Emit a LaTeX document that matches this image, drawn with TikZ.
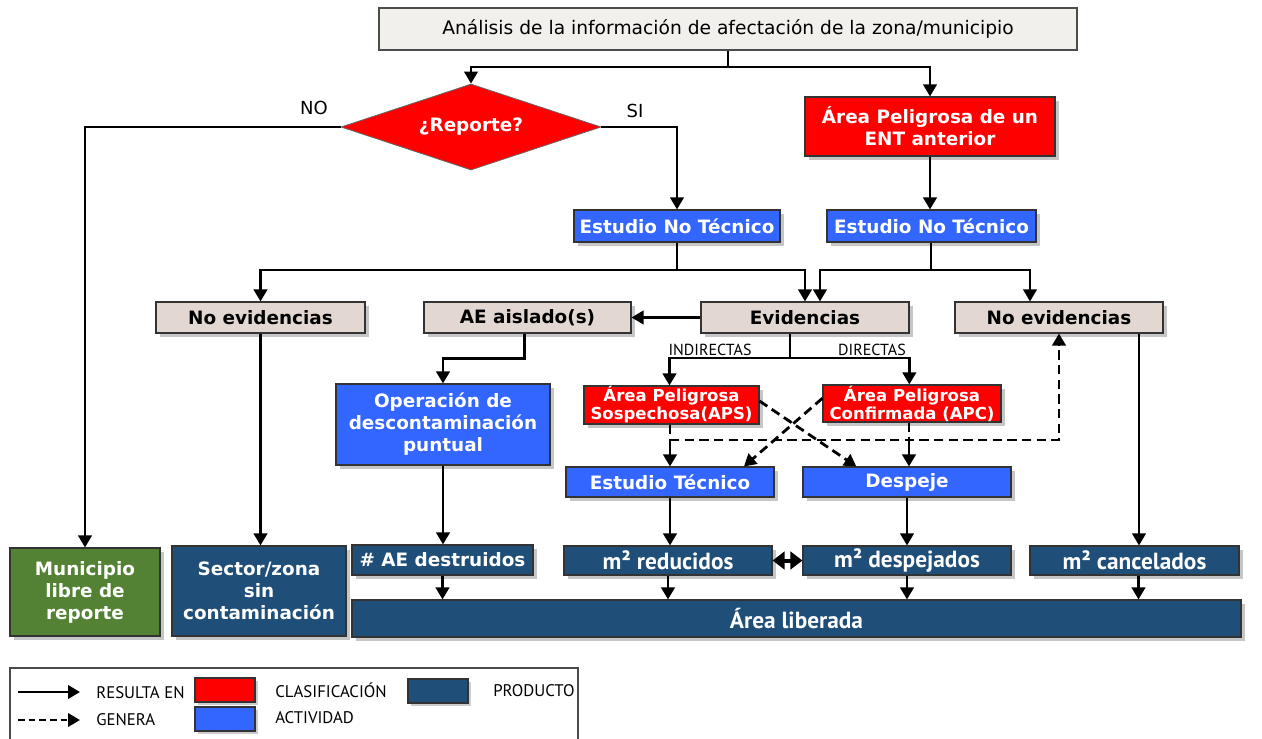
\documentclass[tikz,border=0pt]{standalone}
\usepackage{fontspec}
\setmainfont{DejaVu Sans}
\newfontfamily\myr{PT Sans}
\usetikzlibrary{arrows.meta,shapes.geometric,shadows}
\definecolor{cred}{HTML}{FF0000}
\definecolor{cblue}{HTML}{3366FF}
\definecolor{cdark}{HTML}{1F4E79}
\definecolor{cgreen}{HTML}{548235}
\definecolor{cbeige}{HTML}{E3D8D1}
\definecolor{ctop}{HTML}{F2F0ED}
\tikzset{
  base/.style={draw=black!80, line width=0.8pt, inner sep=0pt, align=center,
    font=\fontsize{13.8}{16.5}\selectfont\bfseries,
    drop shadow={shadow xshift=3pt, shadow yshift=-3pt, fill=black!50, opacity=0.45}},
  redbox/.style={base, fill=cred, text=white},
  bluebox/.style={base, fill=cblue, text=white},
  darkbox/.style={base, fill=cdark, text=white},
  greenbox/.style={base, fill=cgreen, text=white},
  beigebox/.style={base, fill=cbeige, text=black},
  topbox/.style={draw=black!70, line width=0.8pt, fill=ctop, inner sep=0pt,
    font=\fontsize{14}{16}\selectfont},
  smallred/.style={redbox, font=\fontsize{12.4}{13.5}\selectfont\bfseries},
  prodtxt/.style={darkbox, font=\myr\fontsize{17.5}{20}\selectfont\bfseries},
  swatch/.style={draw=black!80, line width=0.8pt, inner sep=0pt,
    drop shadow={shadow xshift=2pt, shadow yshift=-2pt, fill=black!50, opacity=0.4}},
  arr/.style={line width=2.1pt, -{Triangle[length=9pt,width=10pt]}},
  dsh/.style={line width=2.1pt, dash pattern=on 7pt off 4pt},
  dsharr/.style={dsh, -{Triangle[length=9pt,width=10pt]}},
  lbl/.style={font=\fontsize{13.5}{15}\selectfont, inner sep=0pt},
  smlbl/.style={font=\myr\fontsize{12}{13}\selectfont, inner sep=0pt},
  legtxt/.style={font=\myr\fontsize{12.6}{14}\selectfont, inner sep=0pt, anchor=west},
}
\newcommand\bx[7]{\node[#6, minimum width={(#4-#2)*0.75pt}, minimum height={(#5-#3)*0.75pt}] (#1) at ({(#2+#4)/2},{(#3+#5)/2}) {#7};}
\begin{document}
\begin{tikzpicture}[x=0.75pt, y=-0.75pt]
\useasboundingbox (0,0) rectangle (1262,738);

% nodes
\bx{top}{379}{8}{1077}{50}{topbox}{Análisis de la información de afectación de la zona/municipio}
\node[diamond, fill=cred, draw=black!60, line width=0.6pt, inner sep=0pt, aspect=3.02,
  minimum width=195pt, minimum height=64.5pt, text=white,
  font=\fontsize{13.8}{16}\selectfont\bfseries] (dia) at (471,127) {¿Reporte?};
\bx{ent}{805}{97}{1055}{156}{redbox}{Área Peligrosa de un\\ENT anterior}
\bx{ent1}{574}{210}{780}{242}{bluebox}{Estudio No Técnico}
\bx{ent2}{827}{210}{1036}{242}{bluebox}{Estudio No Técnico}
\bx{noev1}{156}{302}{365}{333}{beigebox}{No evidencias}
\bx{ae}{424}{302}{631}{333}{beigebox}{AE aislado(s)}
\bx{ev}{701}{302}{909}{333}{beigebox}{Evidencias}
\bx{noev2}{955}{302}{1163}{333}{beigebox}{No evidencias}
\bx{op}{336}{384}{550}{465}{bluebox}{Operación de\\descontaminación\\puntual}
\bx{aps}{584}{386}{759}{424}{smallred}{Área Peligrosa\\Sospechosa(APS)}
\bx{apc}{823}{385}{1001}{422}{smallred}{Área Peligrosa\\Confirmada (APC)}
\bx{et}{566}{467}{774}{497}{bluebox}{Estudio Técnico}
\bx{desp}{803}{467}{1011}{497}{bluebox}{Despeje}
\bx{mun}{10}{548}{160}{636}{greenbox}{Municipio\\libre de\\reporte}
\bx{sec}{172}{546}{346}{636}{darkbox}{Sector/zona\\sin\\contaminación}
\bx{aed}{352}{545}{533}{575}{darkbox}{\# AE destruidos}
\bx{mred}{564}{546}{772}{575}{prodtxt}{m² reducidos}
\bx{mdes}{803}{546}{1011}{575}{prodtxt}{m² despejados}
\bx{mcan}{1030}{546}{1239}{575}{prodtxt}{m² cancelados}
\bx{alib}{352}{600}{1241}{637}{prodtxt}{Área liberada}

% labels
\node[lbl] (no) at (314,108) {NO};
\node[lbl] (si) at (635,111) {SI};
\node[smlbl] (ind) at (710,350) {INDIRECTAS};
\node[smlbl] (dir) at (872,350) {DIRECTAS};

% junctions
\coordinate (j0) at (728,67);
\coordinate (j1) at (677,270);
\coordinate (j2) at (931,270);
\coordinate (j4) at (790,358);
\coordinate (jd1) at (670,440);
\coordinate (jd2) at (909,440);

% connectors
\draw[arr] (top.south -| j0) -- (j0) -| (dia.north);
\draw[arr] (j0) -| (ent.north);
\draw[arr] (dia.west) -| (mun.north);
\draw[arr] (dia.east) -| (ent1.north);
\draw[arr] (ent.south) -- (ent.south |- ent2.north);
\draw[arr] (ent1.south -| j1) -- (j1) -| (noev1.north);
\draw[arr] (j1) -| (ev.north);
\draw[arr] (ent2.south -| j2) -- (j2) -| ([xshift=11.25pt]ev.north);
\draw[arr] (j2) -| ([xshift=-21.75pt]noev2.north);
\draw[arr] (ev.west) -- (ae.east);
\draw[arr] ([xshift=-2pt]ae.south) -- ++(0,25) -| (op.north);
\draw[line width=2.1pt] (ev.south -| j4) -- (j4);
\draw[arr] (j4) -| ([xshift=-1.5pt]aps.north);
\draw[arr] (j4) -| ([xshift=-2pt]apc.north);
\draw[dsh] (aps.south -| jd1) -- (jd1);
\draw[arr] (jd1) -- (jd1 |- et.north);
\draw[dsh] (apc.south -| jd2) -- (jd2);
\draw[arr] (jd2) -- (jd2 |- desp.north);
\draw[dsharr] (jd1) -| (noev2.south);
\draw[dsharr] ([yshift=3pt]aps.east) -- ([xshift=-38pt]desp.north);
\draw[dsharr] ([yshift=4pt]apc.west) -- ([xshift=55.5pt]et.north);
\draw[arr] (noev1.south) -- (noev1.south |- sec.north);
\draw[arr] (op.south) -- (op.south |- aed.north);
\draw[arr] (et.south) -- (et.south |- mred.north);
\draw[arr] (desp.south) -- (desp.south |- mdes.north);
\draw[arr] ([xshift=60pt]noev2.south) -- ([xshift=60pt]noev2.south |- mcan.north);
\draw[arr] (aed.south) -- (aed.south |- alib.north);
\draw[arr] (mred.south) -- (mred.south |- alib.north);
\draw[arr] (mdes.south) -- (mdes.south |- alib.north);
\draw[arr] ([xshift=3pt]mcan.south) -- ([xshift=3pt]mcan.south |- alib.north);
\draw[line width=3pt, {Triangle[length=9pt,width=13pt]}-{Triangle[length=9pt,width=13pt]}] (mred.east) -- (mdes.west);

% legend
\draw[black!70, line width=0.8pt] (10,745) -- (10,668) -- (578,668) -- (578,745);
\coordinate (la1) at (18,692); \coordinate (la2) at (80,692);
\coordinate (lb1) at (18,720); \coordinate (lb2) at (80,720);
\draw[arr] (la1) -- (la2);
\draw[dsharr, dash pattern=on 5pt off 3pt] (lb1) -- (lb2);
\node[legtxt] (lt1) at (96,693) {RESULTA EN};
\node[legtxt] (lt2) at (96,720) {GENERA};
\bx{sw1}{195}{678}{255}{702}{swatch, fill=cred}{}
\bx{sw2}{195}{707}{255}{731}{swatch, fill=cblue}{}
\bx{sw3}{408}{679}{468}{703}{swatch, fill=cdark}{}
\node[legtxt] (lt3) at (275,690) {CLASIFICACIÓN};
\node[legtxt] (lt4) at (275,718) {ACTIVIDAD};
\node[legtxt] (lt5) at (493,691) {PRODUCTO};
\end{tikzpicture}
\end{document}
